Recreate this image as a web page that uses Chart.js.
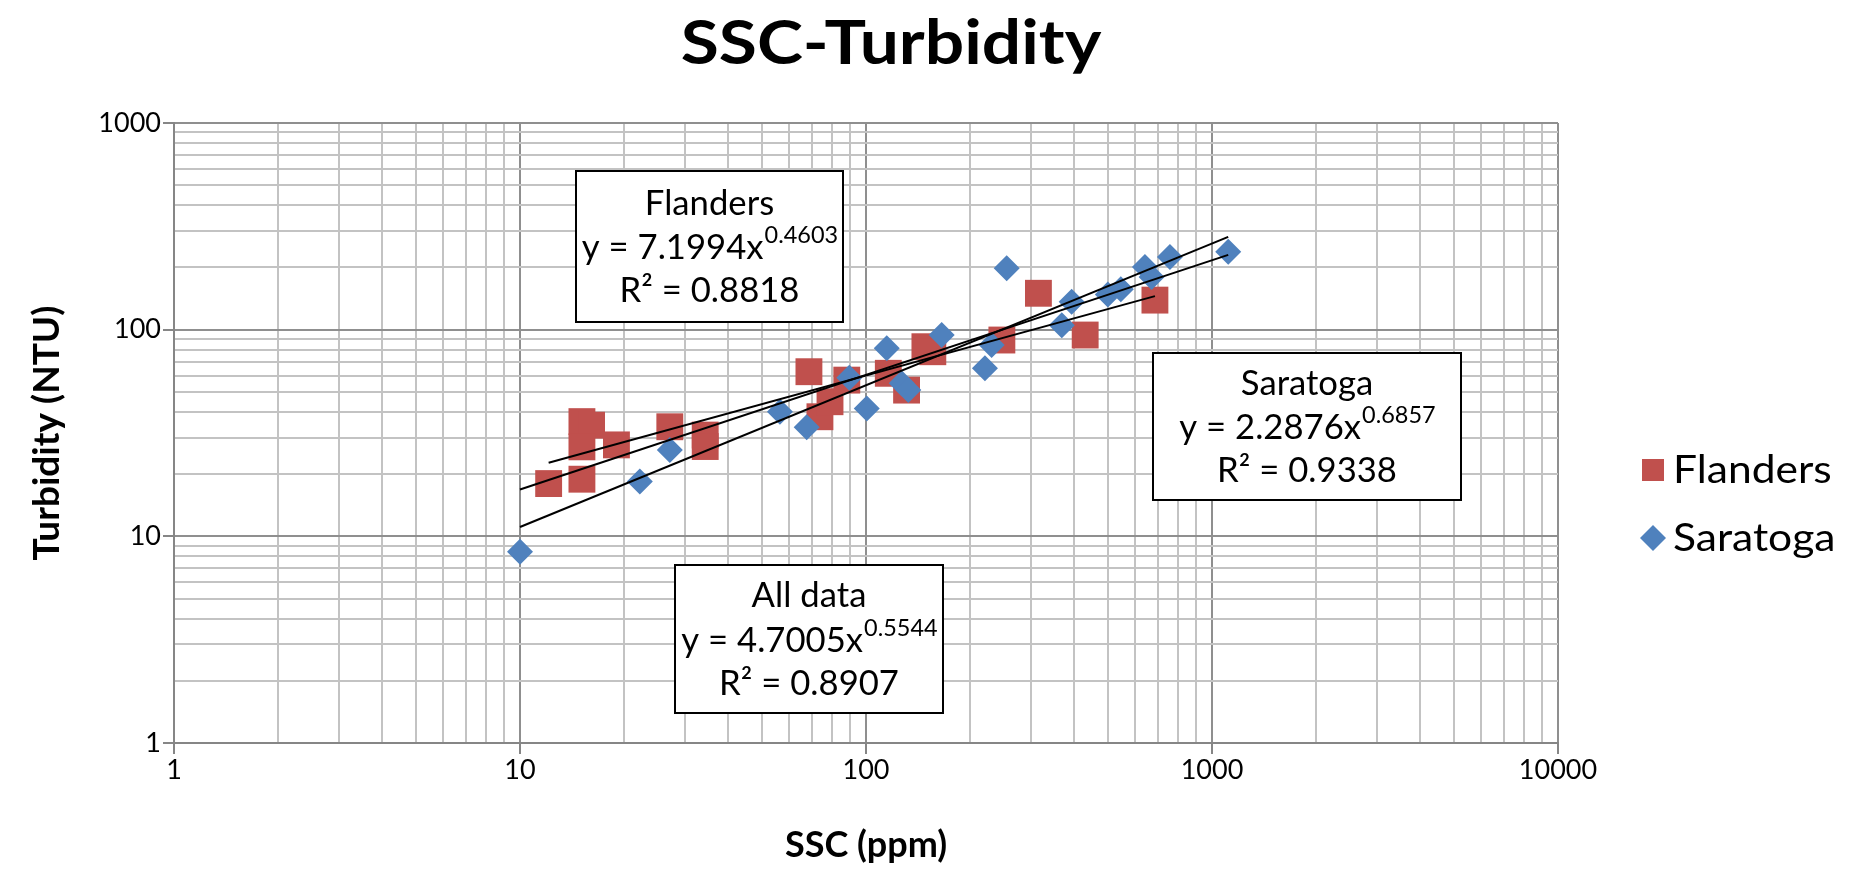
<!DOCTYPE html>
<html><head><meta charset="utf-8">
<script src="https://cdn.jsdelivr.net/npm/chart.js@4.4.1/dist/chart.umd.min.js"></script>
<style>html,body{margin:0;padding:0;background:#fff;}#wrap{width:1850px;height:874px;position:relative;}</style>
</head><body><div id="wrap"><canvas id="c" width="1850" height="874"></canvas></div>
<script>
// ---------- DATA ----------
const chartTitle = 'SSC-Turbidity';
const xAxisTitle = 'SSC (ppm)';
const yAxisTitle = 'Turbidity (NTU)';
const xTickLabels = ['1', '10', '100', '1000', '10000'];
const yTickLabels = ['1', '10', '100', '1000'];
const minorSteps = [2, 3, 4, 5, 6, 7, 8, 9];

const seriesNames = ['Flanders', 'Saratoga'];
const flandersSSC = [12.1, 15.1, 16.1, 15.1, 19.0, 15.1, 27.1, 34.3, 34.3, 68.4, 73.6, 78.7, 88, 116, 131, 148, 156, 247, 315, 430, 684];
const flandersNTU = [18.0, 35.9, 34.5, 27.1, 27.7, 18.9, 33.9, 30.9, 27.2, 62.6, 37.9, 44.8, 57, 61.5, 51.0, 82.7, 78.2, 89.1, 150, 94.2, 139];
const saratogaSSC = [10.0, 22.2, 27.1, 56.4, 67.4, 89.5, 100.5, 114.8, 126.8, 132.5, 165.5, 220.7, 230.7, 255, 368, 393, 500, 545, 640, 669, 756, 1114];
const saratogaNTU = [8.42, 18.4, 26.2, 40.1, 33.7, 58.5, 41.6, 81.2, 55.0, 51.0, 94.2, 65.0, 84.3, 198, 105, 136.5, 148, 157, 201, 180, 225, 238];

// Trendline end points (power fits are straight on log-log axes)
const flandersTrendSSC = [12.1, 684];
const flandersTrendNTU = [22.7, 145.3];
const saratogaTrendSSC = [10, 1114];
const saratogaTrendNTU = [11.1, 281];
const allTrendSSC = [10, 1114];
const allTrendNTU = [16.85, 230];

// Fit annotation texts
const fitLabels = ['Flanders', 'Saratoga', 'All data'];
const fitCoefs = ['7.1994', '2.2876', '4.7005'];
const fitExps = ['0.4603', '0.6857', '0.5544'];
const fitR2 = ['0.8818', '0.9338', '0.8907'];

// ---------- STYLE / LAYOUT ----------
const FONT = 'Lato, "Open Sans", sans-serif';
const RED = '#C0504D', BLUE = '#4F81BD';
const MAJOR_GRID = '#8f8f8f', MINOR_GRID = '#c3c3c3', AXIS = '#868686';
const AREA = {left: 174, right: 1558, top: 123, bottom: 743};
const BOXES = [
  {l: 576, t: 171, r: 843, b: 322, lines: [204, 248, 291]},
  {l: 1153, t: 353, r: 1461, b: 500, lines: [384, 428, 471]},
  {l: 675, t: 565, r: 943, b: 713, lines: [596, 641, 684]}
];
const BOX_FONT = 34, SUP_FONT = 23, BOX_SX = 1.02;
const LEGEND_FONT = 38, LEGEND_SX = 1.12;
const TITLE_FONT = 62, TITLE_SX = 1.12;

function pts(xs, ys) { return xs.map((x, i) => ({x: x, y: ys[i]})); }
function decadeValues(labels) { return labels.map(Number); }
function gridValues(labels) {
  const dec = decadeValues(labels), out = [];
  dec.forEach((d, i) => {
    out.push(d);
    if (i < dec.length - 1) minorSteps.forEach(m => out.push(Number((m * d).toPrecision(6))));
  });
  return out;
}
const xDecades = decadeValues(xTickLabels), yDecades = decadeValues(yTickLabels);
const xGrid = gridValues(xTickLabels), yGrid = gridValues(yTickLabels);

// draw text with horizontal scale; align: 'left' | 'center'
function sText(ctx, text, x, y, font, sx, align) {
  ctx.save();
  ctx.font = font;
  ctx.textAlign = 'left';
  ctx.textBaseline = 'middle';
  const w = ctx.measureText(text).width * sx;
  const x0 = align === 'center' ? x - w / 2 : x;
  ctx.translate(x0, y);
  ctx.scale(sx, 1);
  ctx.fillText(text, 0, 0);
  ctx.restore();
  return w;
}
function textW(ctx, text, font, sx) { ctx.save(); ctx.font = font; const w = ctx.measureText(text).width * sx; ctx.restore(); return w; }

const annotPlugin = {
  id: 'annot',
  afterDraw(chart) {
    const ctx = chart.ctx;
    ctx.save();
    ctx.fillStyle = '#000';
    // title
    sText(ctx, chartTitle, 891, 44, 'bold ' + TITLE_FONT + 'px ' + FONT, TITLE_SX, 'center');
    // fit boxes
    const mf = BOX_FONT + 'px ' + FONT, sf = SUP_FONT + 'px ' + FONT;
    BOXES.forEach((b, i) => {
      ctx.fillStyle = '#fff';
      ctx.fillRect(b.l, b.t, b.r - b.l, b.b - b.t);
      ctx.strokeStyle = '#000';
      ctx.lineWidth = 2;
      ctx.strokeRect(b.l, b.t, b.r - b.l, b.b - b.t);
      const cx = (b.l + b.r) / 2;
      ctx.fillStyle = '#000';
      sText(ctx, fitLabels[i], cx, b.lines[0], mf, BOX_SX, 'center');
      const main = 'y = ' + fitCoefs[i] + 'x';
      const w1 = textW(ctx, main, mf, BOX_SX), w2 = textW(ctx, fitExps[i], sf, BOX_SX);
      const sx0 = cx - (w1 + w2) / 2;
      sText(ctx, main, sx0, b.lines[1], mf, BOX_SX, 'left');
      sText(ctx, fitExps[i], sx0 + w1 + 1, b.lines[1] - 12, sf, BOX_SX, 'left');
      sText(ctx, 'R\u00B2 = ' + fitR2[i], cx, b.lines[2], mf, BOX_SX, 'center');
    });
    // legend
    ctx.fillStyle = RED;
    ctx.fillRect(1653 - 11, 470 - 11, 22, 22);
    ctx.fillStyle = BLUE;
    ctx.beginPath();
    ctx.moveTo(1653, 538 - 13); ctx.lineTo(1666, 538); ctx.lineTo(1653, 538 + 13); ctx.lineTo(1640, 538);
    ctx.closePath(); ctx.fill();
    ctx.fillStyle = '#000';
    const lf = LEGEND_FONT + 'px ' + FONT;
    sText(ctx, seriesNames[0], 1673, 471, lf, LEGEND_SX, 'left');
    sText(ctx, seriesNames[1], 1673, 539, lf, LEGEND_SX, 'left');
    ctx.restore();
  }
};

function gridColor(decades) {
  return c => (c.tick && decades.includes(c.tick.value)) ? MAJOR_GRID : MINOR_GRID;
}
function tickColor(decades) {
  return c => (c.tick && decades.includes(c.tick.value)) ? AXIS : 'rgba(0,0,0,0)';
}

function build() {
  new Chart(document.getElementById('c'), {
    type: 'scatter',
    data: {
      datasets: [
        {label: seriesNames[0], data: pts(flandersSSC, flandersNTU), pointStyle: 'rect', pointRadius: 19,
          backgroundColor: RED, borderWidth: 0, order: 3},
        {label: seriesNames[1], data: pts(saratogaSSC, saratogaNTU), pointStyle: 'rectRot', pointRadius: 13,
          backgroundColor: BLUE, borderWidth: 0, order: 2},
        {label: 'Flanders fit', data: pts(flandersTrendSSC, flandersTrendNTU), showLine: true, pointRadius: 0,
          borderColor: '#000', borderWidth: 2, order: 1},
        {label: 'Saratoga fit', data: pts(saratogaTrendSSC, saratogaTrendNTU), showLine: true, pointRadius: 0,
          borderColor: '#000', borderWidth: 2, order: 1},
        {label: 'All fit', data: pts(allTrendSSC, allTrendNTU), showLine: true, pointRadius: 0,
          borderColor: '#000', borderWidth: 2, order: 1}
      ]
    },
    options: {
      responsive: false,
      devicePixelRatio: 1,
      animation: false,
      events: [],
      layout: {padding: {left: 0, right: 1850 - AREA.right, top: AREA.top, bottom: 0}},
      plugins: {legend: {display: false}, tooltip: {enabled: false}, title: {display: false}},
      scales: {
        x: {
          type: 'logarithmic', position: 'bottom', min: 1, max: 10000,
          afterBuildTicks: s => { s.ticks = xGrid.map(v => ({value: v})); },
          afterFit: s => { s.height = 874 - AREA.bottom; },
          ticks: {autoSkip: false, maxRotation: 0, padding: 0, color: '#000',
            font: {family: FONT, size: 27},
            callback: v => xDecades.includes(v) ? xTickLabels[xDecades.indexOf(v)] : ''},
          grid: {color: gridColor(xDecades), lineWidth: 2, tickLength: 11, tickColor: tickColor(xDecades), tickWidth: 2},
          border: {display: true, color: AXIS, width: 2},
          title: {display: true, text: xAxisTitle, color: '#000', font: {family: FONT, size: 36, weight: 'bold'},
            padding: {top: 0, bottom: 7}}
        },
        y: {
          type: 'logarithmic', position: 'left', min: 1, max: 1000,
          afterBuildTicks: s => { s.ticks = yGrid.map(v => ({value: v})); },
          afterFit: s => { s.width = AREA.left; },
          ticks: {autoSkip: false, padding: 2, color: '#000',
            font: {family: FONT, size: 27},
            callback: v => yDecades.includes(v) ? yTickLabels[yDecades.indexOf(v)] : ''},
          grid: {color: gridColor(yDecades), lineWidth: 2, tickLength: 11, tickColor: tickColor(yDecades), tickWidth: 2},
          border: {display: true, color: AXIS, width: 2},
          title: {display: true, text: yAxisTitle, color: '#000', font: {family: FONT, size: 37, weight: 'bold'},
            padding: {top: 25, bottom: 0}}
        }
      }
    },
    plugins: [annotPlugin]
  });
}
if (document.fonts && document.fonts.load) {
  Promise.all([document.fonts.load('32px Lato'), document.fonts.load('bold 32px Lato')]).then(build, build);
} else build();
</script></body></html>
